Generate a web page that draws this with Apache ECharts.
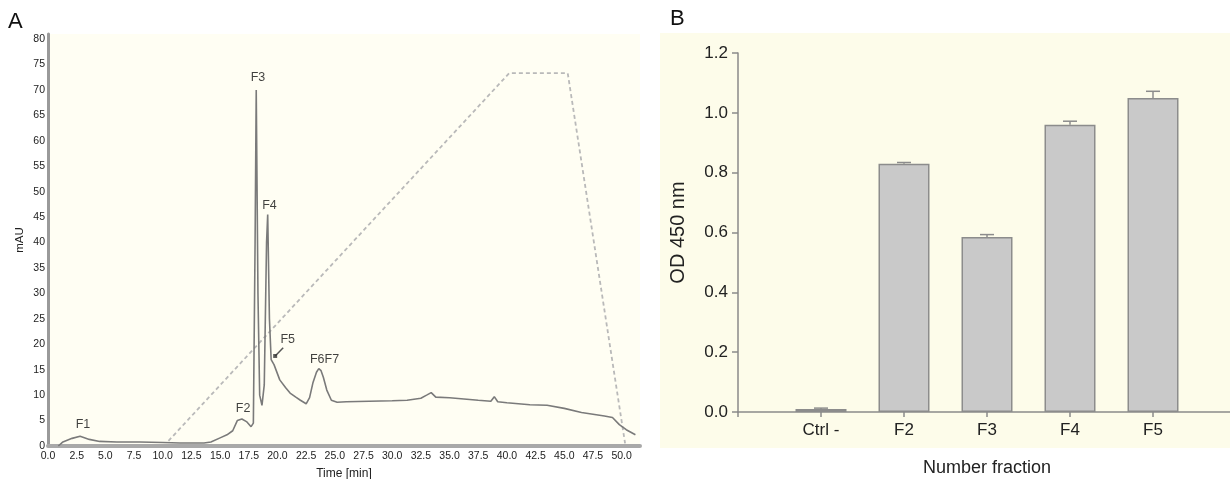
<!DOCTYPE html>
<html>
<head>
<meta charset="utf-8">
<script src="https://cdn.jsdelivr.net/npm/echarts@6/dist/echarts.min.js"></script>
<style>
html,body{margin:0;padding:0;background:#fff;}
#chart{width:1230px;height:479px;}
</style>
</head>
<body>
<div id="chart"></div>
<script>
// ---------- Panel A: chromatogram ----------
const chromTime = [0.9, 1.3, 2.1, 2.8, 3.6, 4.5, 6, 8, 10, 11.5, 13.6, 14.2, 15.0, 15.6, 16.1, 16.5, 16.9, 17.3, 17.7, 17.9,
  18.05, 18.15, 18.3, 18.45, 18.65, 18.85, 19.05, 19.15, 19.3, 19.45, 19.7, 20.2, 20.7, 21.1, 21.6, 22.0, 22.5, 22.8,
  23.1, 23.4, 23.6, 23.8, 24.0, 24.3, 24.7, 25.2, 26, 28, 30, 31.3, 32.5, 33.0, 33.4, 33.8, 35, 36, 37.5, 38.6, 38.9,
  39.2, 40, 42, 43.5, 45, 46.5, 48.5, 49.2, 49.8, 50.4, 51.2];
const chromValue = [0, 0.8, 1.5, 1.9, 1.3, 0.9, 0.8, 0.8, 0.7, 0.6, 0.6, 0.8, 1.6, 2.2, 3.0, 5.0, 5.3, 4.8, 3.8, 4.5,
  40, 70, 30, 10, 8, 12, 40, 45.5, 25, 17, 16, 13, 11.5, 10.4, 9.6, 9.0, 8.3, 9.5,
  12.5, 14.5, 15.2, 14.8, 13.5, 11, 9, 8.6, 8.7, 8.8, 8.9, 9.0, 9.4, 10.0, 10.5, 9.6, 9.5, 9.3, 9.0, 8.8, 9.7,
  8.7, 8.5, 8.1, 8.0, 7.4, 6.6, 5.9, 5.6, 4.2, 3.2, 2.2];
const gradientTime = [10.5, 40.2, 45.3, 50.3];
const gradientValue = [1, 73.3, 73.3, 0.5];
const peakNames = ['F1', 'F2', 'F3', 'F4', 'F5', 'F6F7'];
const peakLabelTime = [3.05, 17.0, 18.3, 19.3, 20.9, 24.1];
const peakLabelValue = [4.3, 7.3, 72.5, 47.2, 21.0, 16.9];
const f5MarkerTime = [19.8, 20.5];
const f5MarkerValue = [17.7, 19.3];

// ---------- Panel B: ELISA bars ----------
const fractions = ['Ctrl -', 'F2', 'F3', 'F4', 'F5'];
const odValues = [0.01, 0.83, 0.585, 0.96, 1.05];
const odErrors = [0.003, 0.004, 0.008, 0.012, 0.022];

const FONT = '"Liberation Sans", Arial, Helvetica, sans-serif';

const chromData = chromTime.map((t, i) => [t, chromValue[i]]);
const gradData = gradientTime.map((t, i) => [t, gradientValue[i]]);
const peakData = peakNames.map((n, i) => ({ name: n, value: [peakLabelTime[i], peakLabelValue[i]] }));
const markerLine = f5MarkerTime.map((t, i) => [t, f5MarkerValue[i]]);

const catAxis = [''].concat(fractions, ['']);
const barData = ['-'].concat(odValues, ['-']);
const errData = fractions.map((f, i) => [i + 1, odValues[i], odErrors[i]]);

const chart = echarts.init(document.getElementById('chart'), null, { renderer: 'canvas' });

const option = {
  backgroundColor: '#ffffff',
  animation: false,
  textStyle: { fontFamily: FONT },
  graphic: [
    { type: 'rect', z: -10, shape: { x: 660, y: 33, width: 570, height: 415 }, style: { fill: '#fdfcea' } },
    { type: 'text', left: 8, top: 11, style: { text: 'A', font: '22px ' + FONT, fill: '#111' } },
    { type: 'text', left: 670, top: 8, style: { text: 'B', font: '22px ' + FONT, fill: '#111' } }
  ],
  grid: [
    { left: 48, right: 590, top: 34, bottom: 33, show: true, backgroundColor: '#fffef3', borderWidth: 0,
      containLabel: false, outerBoundsMode: 'none' },
    { left: 738, right: -6, top: 53, bottom: 67, containLabel: false, outerBoundsMode: 'none' }
  ],
  xAxis: [
    {
      gridIndex: 0, type: 'value', min: 0, max: 51.6, interval: 2.5,
      name: 'Time [min]', nameLocation: 'middle', nameGap: 22,
      nameTextStyle: { fontSize: 12, color: '#222', fontFamily: FONT },
      axisLine: { show: true, onZero: false, lineStyle: { color: '#a9a9a9', width: 4 } },
      axisTick: { show: false },
      splitLine: { show: false },
      axisLabel: {
        fontSize: 10.5, color: '#222', margin: 5, fontFamily: FONT,
        formatter: v => (Math.abs(v / 2.5 - Math.round(v / 2.5)) < 1e-6 && v <= 50.01) ? v.toFixed(1) : ''
      }
    },
    {
      gridIndex: 1, type: 'category', data: catAxis, boundaryGap: false,
      name: 'Number fraction', nameLocation: 'middle', nameGap: 47,
      nameTextStyle: { fontSize: 18, color: '#222', fontFamily: FONT },
      axisLine: { lineStyle: { color: '#8a8a8a', width: 1.5 } },
      axisTick: { show: true, length: 5, lineStyle: { color: '#8a8a8a', width: 1.5 } },
      axisLabel: { fontSize: 17, color: '#222', margin: 10, fontFamily: FONT, interval: 0 },
      splitLine: { show: false }
    }
  ],
  yAxis: [
    {
      gridIndex: 0, type: 'value', min: 0, max: 81, interval: 5,
      name: 'mAU', nameLocation: 'middle', nameGap: 22,
      nameTextStyle: { fontSize: 11.5, color: '#222', fontFamily: FONT },
      axisLine: { show: true, lineStyle: { color: '#9a9a9a', width: 3 } },
      axisTick: { show: false },
      splitLine: { show: false },
      axisLabel: {
        fontSize: 10.5, color: '#222', margin: 3, fontFamily: FONT,
        formatter: v => (v % 5 === 0) ? String(v) : ''
      }
    },
    {
      gridIndex: 1, type: 'value', min: 0, max: 1.2, interval: 0.2,
      name: 'OD 450 nm', nameLocation: 'middle', nameGap: 50,
      nameTextStyle: { fontSize: 20, color: '#222', fontFamily: FONT },
      axisLine: { show: true, lineStyle: { color: '#8a8a8a', width: 1.5 } },
      axisTick: { show: true, length: 6, lineStyle: { color: '#8a8a8a', width: 1.5 } },
      splitLine: { show: false },
      axisLabel: { fontSize: 17, color: '#222', margin: 10, fontFamily: FONT, formatter: v => v.toFixed(1) }
    }
  ],
  series: [
    {
      type: 'line', xAxisIndex: 0, yAxisIndex: 0, data: gradData, symbol: 'none',
      lineStyle: { color: '#b9b9b9', width: 1.8, type: [4, 3] }, z: 2
    },
    {
      type: 'line', xAxisIndex: 0, yAxisIndex: 0, data: chromData, symbol: 'none',
      lineStyle: { color: '#7a7a7a', width: 1.6 }, z: 3
    },
    {
      type: 'line', xAxisIndex: 0, yAxisIndex: 0, data: markerLine, symbol: 'none',
      lineStyle: { color: '#555', width: 1.5 }, z: 4
    },
    {
      type: 'scatter', xAxisIndex: 0, yAxisIndex: 0, data: [markerLine[0]], symbol: 'rect', symbolSize: 4,
      itemStyle: { color: '#333' }, z: 5
    },
    {
      type: 'scatter', xAxisIndex: 0, yAxisIndex: 0, data: peakData, symbolSize: 0, z: 6,
      label: {
        show: true, formatter: '{b}', position: [0, 0], align: 'center', verticalAlign: 'middle',
        fontSize: 12.5, color: '#111', fontFamily: FONT
      }
    },
    {
      type: 'bar', xAxisIndex: 1, yAxisIndex: 1, data: barData, barWidth: 51,
      itemStyle: { color: '#c9c9c9', borderColor: '#8c8c8c', borderWidth: 1.5 }, z: 2
    },
    {
      type: 'custom', xAxisIndex: 1, yAxisIndex: 1, data: errData, z: 3,
      renderItem: function (params, api) {
        const x = api.value(0), v = api.value(1), e = api.value(2);
        const top = api.coord([x, v + e]);
        const base = api.coord([x, v]);
        const half = 7;
        return {
          type: 'group',
          children: [
            { type: 'line', shape: { x1: top[0], y1: top[1], x2: base[0], y2: base[1] }, style: { stroke: '#8c8c8c', lineWidth: 1.5 } },
            { type: 'line', shape: { x1: top[0] - half, y1: top[1], x2: top[0] + half, y2: top[1] }, style: { stroke: '#8c8c8c', lineWidth: 1.5 } }
          ]
        };
      }
    }
  ]
};
chart.setOption(option);
</script>
</body>
</html>
